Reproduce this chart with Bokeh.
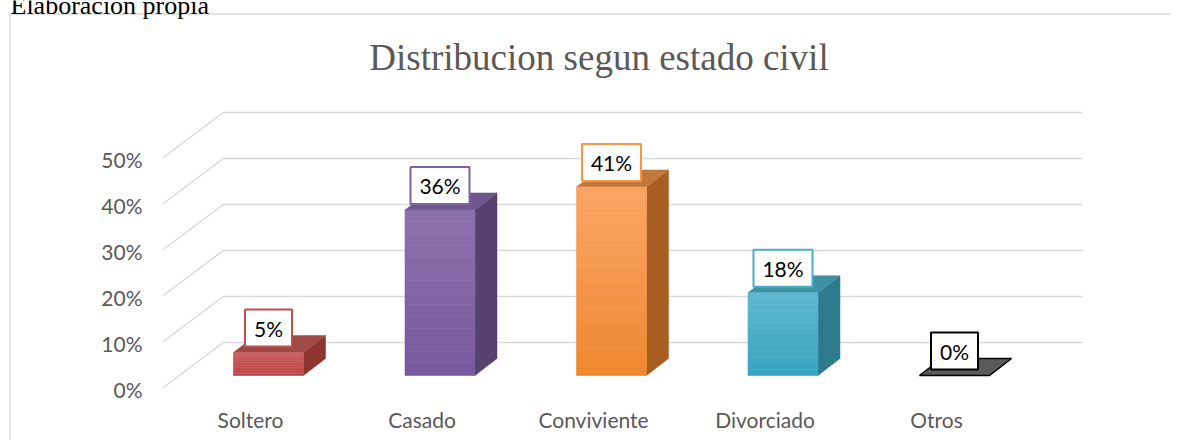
from bokeh.plotting import figure
from bokeh.models import Range1d, ColumnDataSource
from bokeh.core.properties import value
from bokeh.embed import file_html
from bokeh.resources import INLINE

# ---------------- data ----------------
categories = ["Soltero", "Casado", "Conviviente", "Divorciado", "Otros"]
percentages = [5, 36, 41, 18, 0]
tick_values = [0, 10, 20, 30, 40, 50]
tick_labels = ["0%", "10%", "20%", "30%", "40%", "50%"]
title_text = "Distribucion segun estado civil"
heading_text = "Elaboración propia"

front_top_colors = [(0xCA, 0x60, 0x5E), (0x8C, 0x72, 0xAD), (0xFA, 0xA5, 0x66), (0x5E, 0xB8, 0xD1), (0x59, 0x59, 0x59)]
front_bot_colors = [(0xBC, 0x45, 0x43), (0x78, 0x58, 0x9D), (0xEE, 0x88, 0x30), (0x38, 0xA3, 0xC0), (0x59, 0x59, 0x59)]
side_colors = ["#8E3532", "#56416F", "#A85E20", "#2E7A8D", "#3A3A3A"]
top_colors = ["#A04A47", "#6E578C", "#C3773A", "#3F8FA5", "#595959"]
top_line_colors = ["#A04A47", "#6E578C", "#C3773A", "#3F8FA5", "#000000"]
border_colors = ["#C0504D", "#8064A2", "#F79646", "#4BACC6", "#000000"]

# ---------------- layout constants ----------------
W, H = 1170, 440
OFF = 0.0    # page offset of the figure (measured: figure sits at page origin)
SX = 171.5   # px per category
SY = 4.6     # px per percent
X0 = 268.0 - OFF   # px of first bar centre (in figure)
Y0 = 375.0 - OFF   # px of bar base (front, in figure)

def xd(px):
    return (px - OFF - X0) / SX

def yd(py):
    return (Y0 - (py - OFF)) / SY

DXD = 60.0 / SX     # full floor depth, x
DYD = 45.0 / SY     # full floor depth, y
DF, DB = -0.267, 0.733
XW_L, XW_R = -0.52, 4.49
BW = 70.0 / SX
BDX = 22.0 / SX
BDY = 17.0 / SY
NSTRIP = 14

FONT = "Lato"
GRAY = "#595959"

p = figure(width=W, height=H,
           x_range=Range1d(xd(OFF), xd(OFF + W)), y_range=Range1d(yd(OFF + H), yd(OFF)),
           output_backend="svg", toolbar_location=None, min_border=0,
           x_axis_location=None, y_axis_location=None)
p.grid.visible = False
p.outline_line_color = None
p.background_fill_color = "white"
p.border_fill_color = "white"

# chart frame border
p.multi_line(xs=[[xd(9.5), xd(9.5)], [xd(9.5), xd(W + 50)]],
             ys=[[yd(13.5), yd(H + 50)], [yd(13.5), yd(13.5)]],
             line_color="#D9D9D9", line_width=1.3)

# heading (cut off at top, as in the source page)
p.text(x=[xd(10)], y=[yd(5)], text=[heading_text],
       text_font=value("Liberation Serif"), text_font_size="26px",
       text_color="black", text_align="left", text_baseline="alphabetic")

# title
p.text(x=[xd(598.5)], y=[yd(57)], text=[title_text],
       text_font=value("Liberation Serif"), text_font_size="37px",
       text_color=GRAY, text_align="center", text_baseline="middle")

# gridlines (left wall diagonals + back wall horizontals)
gx, gy = [], []
for t in tick_values:
    gx.append([XW_L + DF * DXD, XW_L + DB * DXD, XW_R + DB * DXD])
    gy.append([t + DF * DYD, t + DB * DYD, t + DB * DYD])
p.multi_line(xs=gx, ys=gy, line_color="#D9D9D9", line_width=1.5)

# y tick labels
p.text(x=[xd(142)] * len(tick_values),
       y=[t + DF * DYD - 2.0 / SY for t in tick_values],
       text=tick_labels, text_font=value(FONT), text_font_size="21px",
       text_color=GRAY, text_align="right", text_baseline="middle")

# bars (pseudo 3-D)
xc = list(range(len(categories)))
side_xs, side_ys, top_xs, top_ys = [], [], [], []
for i, v in zip(xc, percentages):
    l, r = i - BW / 2, i + BW / 2
    side_xs.append([r, r + BDX, r + BDX, r])
    side_ys.append([0, BDY, v + BDY, v])
    top_xs.append([l, r, r + BDX, l + BDX])
    top_ys.append([v, v, v + BDY, v + BDY])

p.patches(xs=side_xs, ys=side_ys, fill_color=side_colors, line_color=side_colors, line_width=0.5)
p.patches(xs=top_xs, ys=top_ys, fill_color=top_colors,
          line_color=top_line_colors, line_width=[0.5, 0.5, 0.5, 0.5, 1.5])

# front faces with a vertical shading (strips of each bar)
fl, fr, fb, ft, fc = [], [], [], [], []
for i, v, ctop, cbot in zip(xc, percentages, front_top_colors, front_bot_colors):
    if v <= 0:
        continue
    for k in range(NSTRIP):
        f = (k + 0.5) / NSTRIP
        col = tuple(int(round(cbot[j] + (ctop[j] - cbot[j]) * f)) for j in range(3))
        fl.append(i - BW / 2)
        fr.append(i + BW / 2)
        fb.append(v * k / NSTRIP)
        ft.append(v * (k + 1) / NSTRIP)
        fc.append("#%02X%02X%02X" % col)
p.quad(left=fl, right=fr, bottom=fb, top=ft, fill_color=fc, line_color=fc, line_width=0.6)

# data labels
lab_text = [f"{v}%" for v in percentages]
src = ColumnDataSource(dict(
    x=xc, y=[v + 24.5 / SY for v in percentages], text=lab_text,
    w=[23 + 12 * len(s) for s in lab_text], border=border_colors))
p.rect(x="x", y="y", width="w", height=37, width_units="screen", height_units="screen",
       fill_color="white", line_color="border", line_width=2, source=src)
p.text(x="x", y="y", text="text", source=src, text_font=value(FONT), text_font_size="21px",
       text_color="black", text_align="center", text_baseline="middle")

# category labels
p.text(x=[i - 18.0 / SX for i in xc], y=[yd(419)] * len(xc), text=categories,
       text_font=value(FONT), text_font_size="21px", text_color=GRAY,
       text_align="center", text_baseline="middle")

open("out.html", "w").write(file_html(p, INLINE))
